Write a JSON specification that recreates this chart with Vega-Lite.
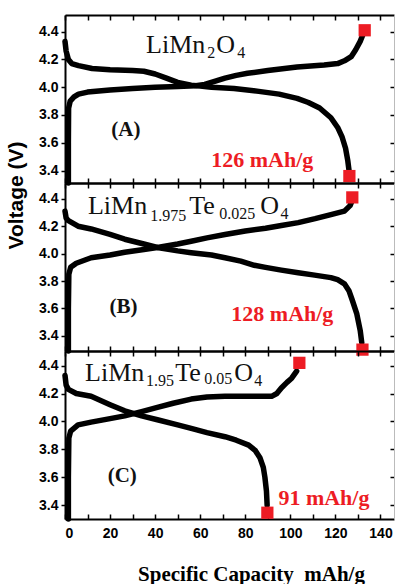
{
  "$schema": "https://vega.github.io/schema/vega-lite/v6.json",
  "background": "white",
  "padding": {"left": 4, "top": 14, "right": 0, "bottom": 0},
  "bounds": "flush",
  "spacing": 0,
  "config": {
    "view": {"stroke": null},
    "axis": {"grid": false, "domainColor": "black", "domainWidth": 2, "tickColor": "black", "tickWidth": 1.5, "labelFont": "Liberation Sans", "labelFontWeight": "bold", "labelFontSize": 14, "labelColor": "black"}
  },
  "datasets": {
    "curves": [
      {"p":"A","s":"c","x":1.5,"v":3.31},{"p":"A","s":"c","x":1.5,"v":3.6},{"p":"A","s":"c","x":1.6,"v":3.85},{"p":"A","s":"c","x":2.3,"v":3.9},{"p":"A","s":"c","x":4,"v":3.93},{"p":"A","s":"c","x":6,"v":3.95},{"p":"A","s":"c","x":10,"v":3.965},{"p":"A","s":"c","x":20,"v":3.98},{"p":"A","s":"c","x":30,"v":3.99},{"p":"A","s":"c","x":40,"v":4.0},{"p":"A","s":"c","x":50,"v":4.005},{"p":"A","s":"c","x":58,"v":4.01},{"p":"A","s":"c","x":62,"v":4.02},{"p":"A","s":"c","x":66,"v":4.04},{"p":"A","s":"c","x":71,"v":4.065},{"p":"A","s":"c","x":76,"v":4.085},{"p":"A","s":"c","x":81,"v":4.1},{"p":"A","s":"c","x":90,"v":4.12},{"p":"A","s":"c","x":103,"v":4.145},{"p":"A","s":"c","x":115,"v":4.16},{"p":"A","s":"c","x":121,"v":4.17},{"p":"A","s":"c","x":124,"v":4.19},{"p":"A","s":"c","x":127,"v":4.22},{"p":"A","s":"c","x":129,"v":4.27},{"p":"A","s":"c","x":131,"v":4.33},{"p":"A","s":"c","x":132.5,"v":4.39},
      {"p":"A","s":"d","x":0,"v":4.33},{"p":"A","s":"d","x":0.5,"v":4.26},{"p":"A","s":"d","x":1.5,"v":4.2},{"p":"A","s":"d","x":3,"v":4.17},{"p":"A","s":"d","x":6,"v":4.155},{"p":"A","s":"d","x":12,"v":4.135},{"p":"A","s":"d","x":20,"v":4.125},{"p":"A","s":"d","x":30,"v":4.12},{"p":"A","s":"d","x":35,"v":4.115},{"p":"A","s":"d","x":40,"v":4.095},{"p":"A","s":"d","x":45,"v":4.065},{"p":"A","s":"d","x":50,"v":4.035},{"p":"A","s":"d","x":56,"v":4.015},{"p":"A","s":"d","x":65,"v":4.0},{"p":"A","s":"d","x":75,"v":3.99},{"p":"A","s":"d","x":86,"v":3.97},{"p":"A","s":"d","x":95,"v":3.95},{"p":"A","s":"d","x":103,"v":3.92},{"p":"A","s":"d","x":108,"v":3.89},{"p":"A","s":"d","x":113,"v":3.85},{"p":"A","s":"d","x":118,"v":3.78},{"p":"A","s":"d","x":121,"v":3.71},{"p":"A","s":"d","x":123,"v":3.64},{"p":"A","s":"d","x":124.5,"v":3.56},{"p":"A","s":"d","x":125.5,"v":3.47},{"p":"A","s":"d","x":126.2,"v":3.38},
      {"p":"B","s":"c","x":1.5,"v":3.29},{"p":"B","s":"c","x":1.5,"v":3.6},{"p":"B","s":"c","x":1.7,"v":3.85},{"p":"B","s":"c","x":2.5,"v":3.9},{"p":"B","s":"c","x":5,"v":3.93},{"p":"B","s":"c","x":11.6,"v":3.97},{"p":"B","s":"c","x":20,"v":3.99},{"p":"B","s":"c","x":26.5,"v":4.01},{"p":"B","s":"c","x":35,"v":4.03},{"p":"B","s":"c","x":41,"v":4.045},{"p":"B","s":"c","x":50,"v":4.07},{"p":"B","s":"c","x":56,"v":4.09},{"p":"B","s":"c","x":63,"v":4.115},{"p":"B","s":"c","x":71,"v":4.14},{"p":"B","s":"c","x":80,"v":4.165},{"p":"B","s":"c","x":89,"v":4.185},{"p":"B","s":"c","x":96,"v":4.205},{"p":"B","s":"c","x":103.5,"v":4.226},{"p":"B","s":"c","x":111,"v":4.255},{"p":"B","s":"c","x":118,"v":4.285},{"p":"B","s":"c","x":124,"v":4.31},{"p":"B","s":"c","x":126.5,"v":4.35},{"p":"B","s":"c","x":127.5,"v":4.39},
      {"p":"B","s":"d","x":0,"v":4.31},{"p":"B","s":"d","x":0.5,"v":4.26},{"p":"B","s":"d","x":1.5,"v":4.24},{"p":"B","s":"d","x":5.8,"v":4.2},{"p":"B","s":"d","x":11.6,"v":4.18},{"p":"B","s":"d","x":20,"v":4.14},{"p":"B","s":"d","x":26.5,"v":4.105},{"p":"B","s":"d","x":35,"v":4.07},{"p":"B","s":"d","x":41,"v":4.045},{"p":"B","s":"d","x":50,"v":4.02},{"p":"B","s":"d","x":56,"v":4.007},{"p":"B","s":"d","x":65,"v":3.99},{"p":"B","s":"d","x":71,"v":3.97},{"p":"B","s":"d","x":78,"v":3.945},{"p":"B","s":"d","x":84,"v":3.915},{"p":"B","s":"d","x":89,"v":3.9},{"p":"B","s":"d","x":96,"v":3.88},{"p":"B","s":"d","x":103.5,"v":3.86},{"p":"B","s":"d","x":110,"v":3.845},{"p":"B","s":"d","x":118,"v":3.825},{"p":"B","s":"d","x":121,"v":3.81},{"p":"B","s":"d","x":124,"v":3.78},{"p":"B","s":"d","x":126,"v":3.73},{"p":"B","s":"d","x":127.5,"v":3.66},{"p":"B","s":"d","x":129.5,"v":3.56},{"p":"B","s":"d","x":131,"v":3.44},{"p":"B","s":"d","x":131.7,"v":3.35},
      {"p":"C","s":"c","x":1.5,"v":3.3},{"p":"C","s":"c","x":1.5,"v":3.6},{"p":"C","s":"c","x":1.7,"v":3.88},{"p":"C","s":"c","x":2.5,"v":3.93},{"p":"C","s":"c","x":5.8,"v":3.975},{"p":"C","s":"c","x":11.6,"v":3.995},{"p":"C","s":"c","x":20,"v":4.02},{"p":"C","s":"c","x":26.5,"v":4.04},{"p":"C","s":"c","x":34,"v":4.07},{"p":"C","s":"c","x":41,"v":4.1},{"p":"C","s":"c","x":48,"v":4.13},{"p":"C","s":"c","x":56,"v":4.16},{"p":"C","s":"c","x":63,"v":4.175},{"p":"C","s":"c","x":71,"v":4.18},{"p":"C","s":"c","x":80,"v":4.18},{"p":"C","s":"c","x":91.7,"v":4.18},{"p":"C","s":"c","x":94,"v":4.2},{"p":"C","s":"c","x":96,"v":4.24},{"p":"C","s":"c","x":98.5,"v":4.28},{"p":"C","s":"c","x":100.6,"v":4.31},{"p":"C","s":"c","x":102.8,"v":4.36},
      {"p":"C","s":"d","x":0,"v":4.33},{"p":"C","s":"d","x":0.5,"v":4.26},{"p":"C","s":"d","x":1.5,"v":4.23},{"p":"C","s":"d","x":5,"v":4.2},{"p":"C","s":"d","x":11.6,"v":4.18},{"p":"C","s":"d","x":20,"v":4.12},{"p":"C","s":"d","x":26.5,"v":4.076},{"p":"C","s":"d","x":34,"v":4.04},{"p":"C","s":"d","x":41,"v":4.012},{"p":"C","s":"d","x":50,"v":3.975},{"p":"C","s":"d","x":56,"v":3.95},{"p":"C","s":"d","x":63,"v":3.92},{"p":"C","s":"d","x":71,"v":3.89},{"p":"C","s":"d","x":76,"v":3.865},{"p":"C","s":"d","x":81.5,"v":3.83},{"p":"C","s":"d","x":84.5,"v":3.79},{"p":"C","s":"d","x":86.5,"v":3.74},{"p":"C","s":"d","x":88,"v":3.67},{"p":"C","s":"d","x":88.7,"v":3.6},{"p":"C","s":"d","x":89.4,"v":3.5},{"p":"C","s":"d","x":89.7,"v":3.4}
    ],
    "ends": [
      {"p":"A","x":133,"v":4.41},{"p":"A","x":126.2,"v":3.36},
      {"p":"B","x":127.5,"v":4.41},{"p":"B","x":132,"v":3.3},
      {"p":"C","x":104,"v":4.42},{"p":"C","x":89.8,"v":3.345}
    ],
    "txt": [
      {"p":"A","k":"main","x":36,"v":4.243,"t":"LiMn"},{"p":"A","k":"sub","x":63.1,"v":4.21,"t":"2"},{"p":"A","k":"main","x":67.1,"v":4.243,"t":"O"},{"p":"A","k":"sub","x":76.4,"v":4.21,"t":"4"},
      {"p":"A","k":"tag","x":27,"v":3.69,"t":"(A)"},{"p":"A","k":"cap","x":64.9,"v":3.422,"t":"126 mAh/g"},
      {"p":"B","k":"main","x":10.2,"v":4.288,"t":"LiMn"},{"p":"B","k":"sub","x":37.8,"v":4.239,"t":"1.975"},{"p":"B","k":"main","x":55.1,"v":4.288,"t":"Te"},{"p":"B","k":"sub","x":68.4,"v":4.249,"t":"0.025"},{"p":"B","k":"main","x":86.7,"v":4.288,"t":"O"},{"p":"B","k":"sub","x":95.6,"v":4.25,"t":"4"},
      {"p":"B","k":"tag","x":26,"v":3.61,"t":"(B)"},{"p":"B","k":"cap","x":73.8,"v":3.509,"t":"128 mAh/g"},
      {"p":"C","k":"main","x":8.9,"v":4.293,"t":"LiMn"},{"p":"C","k":"sub","x":36.0,"v":4.257,"t":"1.95"},{"p":"C","k":"main","x":48.9,"v":4.293,"t":"Te"},{"p":"C","k":"sub","x":61.8,"v":4.265,"t":"0.05"},{"p":"C","k":"main","x":75.1,"v":4.293,"t":"O"},{"p":"C","k":"sub","x":84.0,"v":4.257,"t":"4"},
      {"p":"C","k":"tag","x":25.4,"v":3.61,"t":"(C)"},{"p":"C","k":"cap","x":94.7,"v":3.4,"t":"91 mAh/g"}
    ]
  },
  "vconcat": [
    {
      "width": 329, "height": 168,
      "resolve": {"axis": {"x": "independent", "y": "independent"}},
      "layer": [
        {"data": {"name": "curves"}, "transform": [{"filter": "datum.p == 'A'"}],
         "mark": {"type": "line", "color": "black", "strokeWidth": 5.5, "strokeJoin": "round", "strokeCap": "round"},
         "encoding": {
           "x": {"field": "x", "type": "quantitative", "scale": {"domain": [0, 146], "nice": false, "zero": false}, "axis": {"orient": "bottom", "title": null, "labels": false, "values": [0,10,20,30,40,50,60,70,80,90,100,110,120,130,140], "tickSize": -5}},
           "y": {"field": "v", "type": "quantitative", "scale": {"domain": [3.31, 4.52], "nice": false, "zero": false}, "axis": {"orient": "left", "title": null, "values": [3.4,3.6,3.8,4.0,4.2,4.4], "format": ".1f", "tickSize": 4, "labelPadding": 3}},
           "detail": {"field": "s"},
           "order": {"value": null}
         }},
        {"data": {"name": "ends"}, "transform": [{"filter": "datum.p == 'A'"}],
         "mark": {"type": "square", "color": "#ed1c24", "size": 150, "opacity": 1, "filled": true},
         "encoding": {
           "x": {"field": "x", "type": "quantitative", "scale": {"domain": [0, 146], "nice": false, "zero": false}, "axis": {"orient": "top", "title": null, "labels": false, "values": [0,10,20,30,40,50,60,70,80,90,100,110,120,130,140], "tickSize": -5}},
           "y": {"field": "v", "type": "quantitative", "scale": {"domain": [3.31, 4.52], "nice": false, "zero": false}, "axis": {"orient": "right", "title": null, "labels": false, "values": [3.4,3.6,3.8,4.0,4.2,4.4], "tickSize": -4, "domainColor": "#bbbbbb", "domainWidth": 1}}
         }},
        {"data": {"name": "txt"}, "transform": [{"filter": "datum.p == 'A' && datum.k == 'main'"}],
         "mark": {"type": "text", "align": "left", "baseline": "alphabetic", "font": "Liberation Serif", "fontSize": 26, "color": "#111111"},
         "encoding": {"x": {"field": "x", "type": "quantitative", "axis": null}, "y": {"field": "v", "type": "quantitative", "axis": null}, "text": {"field": "t"}}},
        {"data": {"name": "txt"}, "transform": [{"filter": "datum.p == 'A' && datum.k == 'sub'"}],
         "mark": {"type": "text", "align": "left", "baseline": "alphabetic", "font": "Liberation Serif", "fontSize": 16, "color": "#111111"},
         "encoding": {"x": {"field": "x", "type": "quantitative", "axis": null}, "y": {"field": "v", "type": "quantitative", "axis": null}, "text": {"field": "t"}}},
        {"data": {"name": "txt"}, "transform": [{"filter": "datum.p == 'A' && datum.k == 'tag'"}],
         "mark": {"type": "text", "align": "center", "baseline": "middle", "font": "Liberation Serif", "fontSize": 21, "fontWeight": "bold", "color": "#111111"},
         "encoding": {"x": {"field": "x", "type": "quantitative", "axis": null}, "y": {"field": "v", "type": "quantitative", "axis": null}, "text": {"field": "t"}}},
        {"data": {"name": "txt"}, "transform": [{"filter": "datum.p == 'A' && datum.k == 'cap'"}],
         "mark": {"type": "text", "align": "left", "baseline": "alphabetic", "font": "Liberation Serif", "fontSize": 22, "fontWeight": "bold", "color": "#ed1c24"},
         "encoding": {"x": {"field": "x", "type": "quantitative", "axis": null}, "y": {"field": "v", "type": "quantitative", "axis": null}, "text": {"field": "t"}}}
      ]
    },
    {
      "width": 329, "height": 168,
      "resolve": {"axis": {"x": "independent", "y": "independent"}},
      "layer": [
        {"data": {"name": "curves"}, "transform": [{"filter": "datum.p == 'B'"}],
         "mark": {"type": "line", "color": "black", "strokeWidth": 5.5, "strokeJoin": "round", "strokeCap": "round"},
         "encoding": {
           "x": {"field": "x", "type": "quantitative", "scale": {"domain": [0, 146], "nice": false, "zero": false}, "axis": {"orient": "bottom", "title": null, "labels": false, "values": [0,10,20,30,40,50,60,70,80,90,100,110,120,130,140], "tickSize": -5}},
           "y": {"field": "v", "type": "quantitative", "scale": {"domain": [3.29, 4.515], "nice": false, "zero": false}, "axis": {"orient": "left", "title": "Voltage (V)", "titleFont": "Liberation Sans", "titleFontWeight": "bold", "titleFontSize": 21, "titleColor": "black", "titleAngle": 270, "titleAlign": "center", "titleBaseline": "middle", "titleX": -49, "titleY": 12, "values": [3.4,3.6,3.8,4.0,4.2,4.4], "format": ".1f", "tickSize": 4, "labelPadding": 3}},
           "detail": {"field": "s"},
           "order": {"value": null}
         }},
        {"data": {"name": "ends"}, "transform": [{"filter": "datum.p == 'B'"}],
         "mark": {"type": "square", "color": "#ed1c24", "size": 150, "opacity": 1, "filled": true},
         "encoding": {
           "x": {"field": "x", "type": "quantitative", "scale": {"domain": [0, 146], "nice": false, "zero": false}, "axis": {"orient": "top", "title": null, "labels": false, "values": [0,10,20,30,40,50,60,70,80,90,100,110,120,130,140], "tickSize": -5}},
           "y": {"field": "v", "type": "quantitative", "scale": {"domain": [3.29, 4.515], "nice": false, "zero": false}, "axis": {"orient": "right", "title": null, "labels": false, "values": [3.4,3.6,3.8,4.0,4.2,4.4], "tickSize": -4, "domainColor": "#bbbbbb", "domainWidth": 1}}
         }},
        {"data": {"name": "txt"}, "transform": [{"filter": "datum.p == 'B' && datum.k == 'main'"}],
         "mark": {"type": "text", "align": "left", "baseline": "alphabetic", "font": "Liberation Serif", "fontSize": 26, "color": "#111111"},
         "encoding": {"x": {"field": "x", "type": "quantitative", "axis": null}, "y": {"field": "v", "type": "quantitative", "axis": null}, "text": {"field": "t"}}},
        {"data": {"name": "txt"}, "transform": [{"filter": "datum.p == 'B' && datum.k == 'sub'"}],
         "mark": {"type": "text", "align": "left", "baseline": "alphabetic", "font": "Liberation Serif", "fontSize": 16, "color": "#111111"},
         "encoding": {"x": {"field": "x", "type": "quantitative", "axis": null}, "y": {"field": "v", "type": "quantitative", "axis": null}, "text": {"field": "t"}}},
        {"data": {"name": "txt"}, "transform": [{"filter": "datum.p == 'B' && datum.k == 'tag'"}],
         "mark": {"type": "text", "align": "center", "baseline": "middle", "font": "Liberation Serif", "fontSize": 21, "fontWeight": "bold", "color": "#111111"},
         "encoding": {"x": {"field": "x", "type": "quantitative", "axis": null}, "y": {"field": "v", "type": "quantitative", "axis": null}, "text": {"field": "t"}}},
        {"data": {"name": "txt"}, "transform": [{"filter": "datum.p == 'B' && datum.k == 'cap'"}],
         "mark": {"type": "text", "align": "left", "baseline": "alphabetic", "font": "Liberation Serif", "fontSize": 22, "fontWeight": "bold", "color": "#ed1c24"},
         "encoding": {"x": {"field": "x", "type": "quantitative", "axis": null}, "y": {"field": "v", "type": "quantitative", "axis": null}, "text": {"field": "t"}}}
      ]
    },
    {
      "width": 329, "height": 168,
      "resolve": {"axis": {"x": "independent", "y": "independent"}},
      "layer": [
        {"data": {"name": "curves"}, "transform": [{"filter": "datum.p == 'C'"}],
         "mark": {"type": "line", "color": "black", "strokeWidth": 5.5, "strokeJoin": "round", "strokeCap": "round"},
         "encoding": {
           "x": {"field": "x", "type": "quantitative", "scale": {"domain": [0, 146], "nice": false, "zero": false}, "axis": {"orient": "bottom", "title": "Specific Capacity\u00a0 mAh/g", "titleFont": "Liberation Serif", "titleFontWeight": "bold", "titleFontSize": 21, "titleColor": "black", "titleAlign": "center", "titleBaseline": "alphabetic", "titleX": 186, "titleY": 61, "values": [0,10,20,30,40,50,60,70,80,90,100,110,120,130,140], "labelExpr": "datum.value % 20 === 0 ? datum.label : ''", "tickSize": -5, "labelPadding": 12}},
           "y": {"field": "v", "type": "quantitative", "scale": {"domain": [3.3, 4.505], "nice": false, "zero": false}, "axis": {"orient": "left", "title": null, "values": [3.4,3.6,3.8,4.0,4.2,4.4], "format": ".1f", "tickSize": 4, "labelPadding": 3}},
           "detail": {"field": "s"},
           "order": {"value": null}
         }},
        {"data": {"name": "ends"}, "transform": [{"filter": "datum.p == 'C'"}],
         "mark": {"type": "square", "color": "#ed1c24", "size": 150, "opacity": 1, "filled": true},
         "encoding": {
           "x": {"field": "x", "type": "quantitative", "scale": {"domain": [0, 146], "nice": false, "zero": false}, "axis": {"orient": "top", "title": null, "labels": false, "values": [0,10,20,30,40,50,60,70,80,90,100,110,120,130,140], "tickSize": -5}},
           "y": {"field": "v", "type": "quantitative", "scale": {"domain": [3.3, 4.505], "nice": false, "zero": false}, "axis": {"orient": "right", "title": null, "labels": false, "values": [3.4,3.6,3.8,4.0,4.2,4.4], "tickSize": -4, "domainColor": "#bbbbbb", "domainWidth": 1}}
         }},
        {"data": {"name": "txt"}, "transform": [{"filter": "datum.p == 'C' && datum.k == 'main'"}],
         "mark": {"type": "text", "align": "left", "baseline": "alphabetic", "font": "Liberation Serif", "fontSize": 26, "color": "#111111"},
         "encoding": {"x": {"field": "x", "type": "quantitative", "axis": null}, "y": {"field": "v", "type": "quantitative", "axis": null}, "text": {"field": "t"}}},
        {"data": {"name": "txt"}, "transform": [{"filter": "datum.p == 'C' && datum.k == 'sub'"}],
         "mark": {"type": "text", "align": "left", "baseline": "alphabetic", "font": "Liberation Serif", "fontSize": 16, "color": "#111111"},
         "encoding": {"x": {"field": "x", "type": "quantitative", "axis": null}, "y": {"field": "v", "type": "quantitative", "axis": null}, "text": {"field": "t"}}},
        {"data": {"name": "txt"}, "transform": [{"filter": "datum.p == 'C' && datum.k == 'tag'"}],
         "mark": {"type": "text", "align": "center", "baseline": "middle", "font": "Liberation Serif", "fontSize": 21, "fontWeight": "bold", "color": "#111111"},
         "encoding": {"x": {"field": "x", "type": "quantitative", "axis": null}, "y": {"field": "v", "type": "quantitative", "axis": null}, "text": {"field": "t"}}},
        {"data": {"name": "txt"}, "transform": [{"filter": "datum.p == 'C' && datum.k == 'cap'"}],
         "mark": {"type": "text", "align": "left", "baseline": "alphabetic", "font": "Liberation Serif", "fontSize": 22, "fontWeight": "bold", "color": "#ed1c24"},
         "encoding": {"x": {"field": "x", "type": "quantitative", "axis": null}, "y": {"field": "v", "type": "quantitative", "axis": null}, "text": {"field": "t"}}}
      ]
    }
  ]
}
